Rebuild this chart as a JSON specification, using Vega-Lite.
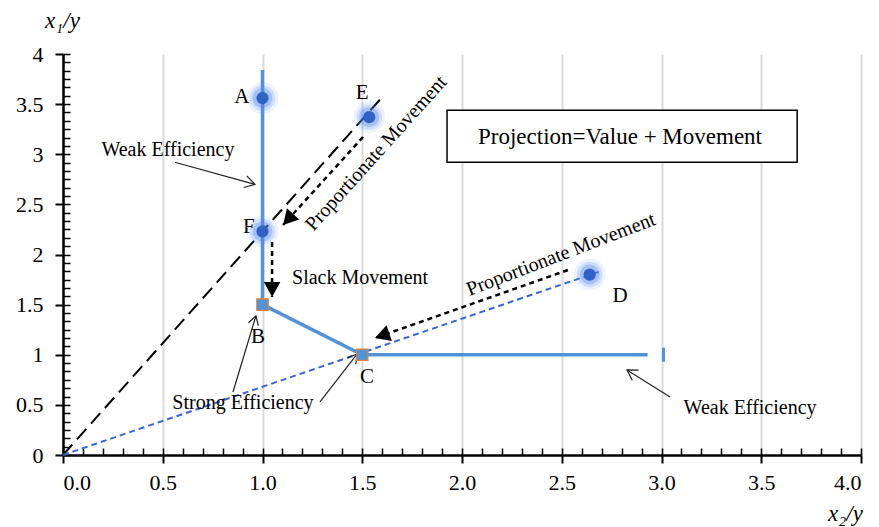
{
  "$schema": "https://vega.github.io/schema/vega-lite/v6.json",
  "width": 798,
  "height": 401,
  "autosize": {"type": "none"},
  "padding": {"left": 63, "top": 54, "right": 18, "bottom": 72},
  "background": "white",
  "config": {
    "view": {"stroke": null},
    "font": "Liberation Serif",
    "text": {"font": "Liberation Serif", "color": "black"},
    "axis": {"labelFont": "Liberation Serif", "titleFont": "Liberation Serif", "labelColor": "black", "titleColor": "black"}
  },
  "datasets": {
    "frontier": [
      {"x": 1, "y": 3.84, "o": 1},
      {"x": 1, "y": 1.5, "o": 2},
      {"x": 1.5, "y": 1, "o": 3},
      {"x": 2.93, "y": 1, "o": 4}
    ],
    "endtick": [{"x": 3.01, "y": 0.93, "y2": 1.07}],
    "rayE": [{"x": 0, "y": 0}, {"x": 1.6, "y": 3.57}],
    "rayD": [{"x": 0, "y": 0}, {"x": 2.69, "y": 1.83}],
    "moves": [
      {"name": "m1", "x": 1.504, "y": 3.172, "x2": 1.103, "y2": 2.294},
      {"name": "m2", "x": 1.048, "y": 2.125, "x2": 1.048, "y2": 1.576},
      {"name": "m3", "x": 2.531, "y": 1.845, "x2": 1.564, "y2": 1.167}
    ],
    "pointers": [
      {"name": "a1", "x": 0.561, "y": 2.92, "x2": 0.962, "y2": 2.7},
      {"name": "a2", "x": 0.852, "y": 0.628, "x2": 0.967, "y2": 1.387},
      {"name": "a3", "x": 1.288, "y": 0.529, "x2": 1.474, "y2": 1.007},
      {"name": "a4", "x": 3.043, "y": 0.579, "x2": 2.827, "y2": 0.848}
    ],
    "points": [
      {"label": "A", "x": 1, "y": 3.56},
      {"label": "E", "x": 1.535, "y": 3.37},
      {"label": "F", "x": 1, "y": 2.23},
      {"label": "D", "x": 2.64, "y": 1.8}
    ],
    "squares": [
      {"label": "B", "x": 1, "y": 1.5},
      {"label": "C", "x": 1.5, "y": 1}
    ],
    "letters": [
      {"text": "A", "x": 0.897, "y": 3.57},
      {"text": "E", "x": 1.499, "y": 3.61},
      {"text": "F", "x": 0.932, "y": 2.27},
      {"text": "B", "x": 0.977, "y": 1.18},
      {"text": "C", "x": 1.524, "y": 0.78},
      {"text": "D", "x": 2.792, "y": 1.59}
    ],
    "notes": [
      {"text": "Weak Efficiency", "x": 0.526, "y": 3.04},
      {"text": "Slack Movement", "x": 1.489, "y": 1.77},
      {"text": "Strong Efficiency", "x": 0.902, "y": 0.52},
      {"text": "Weak Efficiency", "x": 3.444, "y": 0.47}
    ],
    "box": [{"x": 1.925, "x2": 3.68, "y": 3.44, "y2": 2.92, "text": "Projection=Value + Movement", "tx": 2.792, "ty": 3.17}],
    "rot1": [{"text": "Proportionate Movement", "x": 1.57, "y": 3.01}],
    "rot2": [{"text": "Proportionate Movement", "x": 2.496, "y": 2.0}]
  },
  "layer": [
    {
      "data": {"name": "frontier"},
      "mark": {"type": "line", "color": "#4f93d8", "strokeWidth": 3.5, "strokeCap": "butt", "strokeJoin": "miter"},
      "encoding": {
        "x": {
          "field": "x", "type": "quantitative",
          "scale": {"domain": [0, 4], "nice": false, "zero": false},
          "axis": {
            "orient": "bottom",
            "values": [0, 0.5, 1, 1.5, 2, 2.5, 3, 3.5, 4],
            "format": ".1f",
            "grid": true, "gridColor": "#d9d9d9", "gridWidth": 2,
            "domainColor": "black", "domainWidth": 2.5,
            "tickColor": "black", "tickWidth": 2, "tickSize": 8,
            "labelFont": "Liberation Serif", "labelFontSize": 22, "labelPadding": 9,
            "title": "x₂/y", "titleFont": "Liberation Serif", "titleFontStyle": "italic", "titleFontWeight": "normal", "titleFontSize": 23,
            "titleX": 782, "titleY": 58, "titleAlign": "center", "titleBaseline": "middle", "titleAnchor": null
          }
        },
        "y": {
          "field": "y", "type": "quantitative",
          "scale": {"domain": [0, 4], "nice": false, "zero": false},
          "axis": {
            "orient": "left",
            "values": [0, 0.5, 1, 1.5, 2, 2.5, 3, 3.5, 4],
            "format": "~g",
            "grid": false,
            "domainColor": "black", "domainWidth": 2.5,
            "tickColor": "black", "tickWidth": 2, "tickSize": 8,
            "labelFont": "Liberation Serif", "labelFontSize": 22, "labelPadding": 12,
            "title": "x₁/y", "titleFont": "Liberation Serif", "titleAngle": 0, "titleFontStyle": "italic", "titleFontWeight": "normal", "titleFontSize": 23,
            "titleX": -1, "titleY": -34, "titleAlign": "center", "titleBaseline": "middle", "titleAnchor": null
          }
        },
        "order": {"field": "o", "type": "quantitative"}
      }
    },
    {
      "data": {"name": "frontier"},
      "mark": {"type": "point", "opacity": 0},
      "encoding": {
        "x": {
          "field": "x", "type": "quantitative",
          "axis": {
            "orient": "bottom",
            "values": [0, 0.1, 0.2, 0.3, 0.4, 0.5, 0.6, 0.7, 0.8, 0.9, 1, 1.1, 1.2, 1.3, 1.4, 1.5, 1.6, 1.7, 1.8, 1.9, 2, 2.1, 2.2, 2.3, 2.4, 2.5, 2.6, 2.7, 2.8, 2.9, 3, 3.1, 3.2, 3.3, 3.4, 3.5, 3.6, 3.7, 3.8, 3.9, 4],
            "labels": false, "domain": false, "grid": false, "title": null,
            "tickColor": "black", "tickWidth": 1.5, "tickSize": -7
          }
        },
        "y": {
          "field": "y", "type": "quantitative",
          "axis": {
            "orient": "left",
            "values": [0, 0.0833, 0.1667, 0.25, 0.3333, 0.4167, 0.5, 0.5833, 0.6667, 0.75, 0.8333, 0.9167, 1, 1.0833, 1.1667, 1.25, 1.3333, 1.4167, 1.5, 1.5833, 1.6667, 1.75, 1.8333, 1.9167, 2, 2.0833, 2.1667, 2.25, 2.3333, 2.4167, 2.5, 2.5833, 2.6667, 2.75, 2.8333, 2.9167, 3, 3.0833, 3.1667, 3.25, 3.3333, 3.4167, 3.5, 3.5833, 3.6667, 3.75, 3.8333, 3.9167, 4],
            "labels": false, "domain": false, "grid": false, "title": null,
            "tickColor": "black", "tickWidth": 1.5, "tickSize": -7
          }
        }
      }
    },
    {
      "data": {"name": "endtick"},
      "mark": {"type": "rule", "color": "#4f93d8", "strokeWidth": 3},
      "encoding": {
        "x": {"field": "x", "type": "quantitative", "axis": null},
        "y": {"field": "y", "type": "quantitative", "axis": null},
        "y2": {"field": "y2"}
      }
    },
    {
      "data": {"name": "rayE"},
      "mark": {"type": "line", "color": "black", "strokeWidth": 2, "strokeDash": [14, 7]},
      "encoding": {
        "x": {"field": "x", "type": "quantitative", "axis": null},
        "y": {"field": "y", "type": "quantitative", "axis": null}
      }
    },
    {
      "data": {"name": "rayD"},
      "mark": {"type": "line", "color": "#3366d6", "strokeWidth": 2, "strokeDash": [6, 4]},
      "encoding": {
        "x": {"field": "x", "type": "quantitative", "axis": null},
        "y": {"field": "y", "type": "quantitative", "axis": null}
      }
    },
    {
      "data": {"name": "moves"},
      "mark": {"type": "rule", "color": "black", "strokeWidth": 2.5, "strokeDash": [5, 4]},
      "encoding": {
        "x": {"field": "x", "type": "quantitative", "axis": null},
        "y": {"field": "y", "type": "quantitative", "axis": null},
        "x2": {"field": "x2"},
        "y2": {"field": "y2"}
      }
    },
    {
      "data": {"name": "moves"},
      "transform": [{"filter": "datum.name == 'm1'"}],
      "mark": {"type": "point", "shape": "M0,0L-1,-0.55L-1,0.55Z", "filled": true, "color": "black", "opacity": 1, "size": 900, "angle": 132},
      "encoding": {
        "x": {"field": "x2", "type": "quantitative", "axis": null},
        "y": {"field": "y2", "type": "quantitative", "axis": null}
      }
    },
    {
      "data": {"name": "moves"},
      "transform": [{"filter": "datum.name == 'm2'"}],
      "mark": {"type": "point", "shape": "M0,0L-1,-0.55L-1,0.55Z", "filled": true, "color": "black", "opacity": 1, "size": 900, "angle": 90},
      "encoding": {
        "x": {"field": "x2", "type": "quantitative", "axis": null},
        "y": {"field": "y2", "type": "quantitative", "axis": null}
      }
    },
    {
      "data": {"name": "moves"},
      "transform": [{"filter": "datum.name == 'm3'"}],
      "mark": {"type": "point", "shape": "M0,0L-1,-0.55L-1,0.55Z", "filled": true, "color": "black", "opacity": 1, "size": 900, "angle": 161},
      "encoding": {
        "x": {"field": "x2", "type": "quantitative", "axis": null},
        "y": {"field": "y2", "type": "quantitative", "axis": null}
      }
    },
    {
      "data": {"name": "pointers"},
      "mark": {"type": "rule", "color": "#222222", "strokeWidth": 1.2},
      "encoding": {
        "x": {"field": "x", "type": "quantitative", "axis": null},
        "y": {"field": "y", "type": "quantitative", "axis": null},
        "x2": {"field": "x2"},
        "y2": {"field": "y2"}
      }
    },
    {
      "data": {"name": "pointers"},
      "transform": [{"filter": "datum.name == 'a1'"}],
      "mark": {"type": "point", "shape": "M-1,-0.6L0,0L-1,0.6", "filled": false, "color": "#222222", "strokeWidth": 1.2, "opacity": 1, "size": 400, "angle": 15},
      "encoding": {
        "x": {"field": "x2", "type": "quantitative", "axis": null},
        "y": {"field": "y2", "type": "quantitative", "axis": null}
      }
    },
    {
      "data": {"name": "pointers"},
      "transform": [{"filter": "datum.name == 'a2'"}],
      "mark": {"type": "point", "shape": "M-1,-0.6L0,0L-1,0.6", "filled": false, "color": "#222222", "strokeWidth": 1.2, "opacity": 1, "size": 300, "angle": -73},
      "encoding": {
        "x": {"field": "x2", "type": "quantitative", "axis": null},
        "y": {"field": "y2", "type": "quantitative", "axis": null}
      }
    },
    {
      "data": {"name": "pointers"},
      "transform": [{"filter": "datum.name == 'a3'"}],
      "mark": {"type": "point", "shape": "M-1,-0.6L0,0L-1,0.6", "filled": false, "color": "#222222", "strokeWidth": 1.2, "opacity": 1, "size": 300, "angle": -52},
      "encoding": {
        "x": {"field": "x2", "type": "quantitative", "axis": null},
        "y": {"field": "y2", "type": "quantitative", "axis": null}
      }
    },
    {
      "data": {"name": "pointers"},
      "transform": [{"filter": "datum.name == 'a4'"}],
      "mark": {"type": "point", "shape": "M-1,-0.6L0,0L-1,0.6", "filled": false, "color": "#222222", "strokeWidth": 1.2, "opacity": 1, "size": 400, "angle": -148},
      "encoding": {
        "x": {"field": "x2", "type": "quantitative", "axis": null},
        "y": {"field": "y2", "type": "quantitative", "axis": null}
      }
    },
    {
      "data": {"name": "box"},
      "mark": {"type": "rect", "fill": "white", "stroke": "black", "strokeWidth": 1.5},
      "encoding": {
        "x": {"field": "x", "type": "quantitative", "axis": null},
        "x2": {"field": "x2"},
        "y": {"field": "y", "type": "quantitative", "axis": null},
        "y2": {"field": "y2"}
      }
    },
    {
      "data": {"name": "box"},
      "mark": {"type": "text", "font": "Liberation Serif", "fontSize": 23, "align": "center", "baseline": "middle"},
      "encoding": {
        "x": {"field": "tx", "type": "quantitative", "axis": null},
        "y": {"field": "ty", "type": "quantitative", "axis": null},
        "text": {"field": "text"}
      }
    },
    {
      "data": {"name": "points"},
      "mark": {"type": "circle", "color": "#6b9cf5", "opacity": 0.12, "size": 1000},
      "encoding": {
        "x": {"field": "x", "type": "quantitative", "axis": null},
        "y": {"field": "y", "type": "quantitative", "axis": null}
      }
    },
    {
      "data": {"name": "points"},
      "mark": {"type": "circle", "color": "#5a8cf0", "opacity": 0.2, "size": 650},
      "encoding": {
        "x": {"field": "x", "type": "quantitative", "axis": null},
        "y": {"field": "y", "type": "quantitative", "axis": null}
      }
    },
    {
      "data": {"name": "points"},
      "mark": {"type": "circle", "color": "#4a7fe8", "opacity": 0.3, "size": 400},
      "encoding": {
        "x": {"field": "x", "type": "quantitative", "axis": null},
        "y": {"field": "y", "type": "quantitative", "axis": null}
      }
    },
    {
      "data": {"name": "points"},
      "mark": {"type": "circle", "color": "#2f62c6", "opacity": 1, "size": 150},
      "encoding": {
        "x": {"field": "x", "type": "quantitative", "axis": null},
        "y": {"field": "y", "type": "quantitative", "axis": null}
      }
    },
    {
      "data": {"name": "squares"},
      "mark": {"type": "square", "fill": "#4f93d8", "stroke": "#ed7d31", "strokeWidth": 1.2, "opacity": 1, "fillOpacity": 1, "size": 130},
      "encoding": {
        "x": {"field": "x", "type": "quantitative", "axis": null},
        "y": {"field": "y", "type": "quantitative", "axis": null}
      }
    },
    {
      "data": {"name": "letters"},
      "mark": {"type": "text", "font": "Liberation Serif", "fontSize": 21, "align": "center", "baseline": "middle"},
      "encoding": {
        "x": {"field": "x", "type": "quantitative", "axis": null},
        "y": {"field": "y", "type": "quantitative", "axis": null},
        "text": {"field": "text"}
      }
    },
    {
      "data": {"name": "notes"},
      "mark": {"type": "text", "font": "Liberation Serif", "fontSize": 20, "align": "center", "baseline": "middle"},
      "encoding": {
        "x": {"field": "x", "type": "quantitative", "axis": null},
        "y": {"field": "y", "type": "quantitative", "axis": null},
        "text": {"field": "text"}
      }
    },
    {
      "data": {"name": "rot1"},
      "mark": {"type": "text", "font": "Liberation Serif", "fontSize": 20, "align": "center", "baseline": "middle", "angle": -48},
      "encoding": {
        "x": {"field": "x", "type": "quantitative", "axis": null},
        "y": {"field": "y", "type": "quantitative", "axis": null},
        "text": {"field": "text"}
      }
    },
    {
      "data": {"name": "rot2"},
      "mark": {"type": "text", "font": "Liberation Serif", "fontSize": 20, "align": "center", "baseline": "middle", "angle": -21},
      "encoding": {
        "x": {"field": "x", "type": "quantitative", "axis": null},
        "y": {"field": "y", "type": "quantitative", "axis": null},
        "text": {"field": "text"}
      }
    }
  ],
  "resolve": {"axis": {"x": "independent", "y": "independent"}}
}
